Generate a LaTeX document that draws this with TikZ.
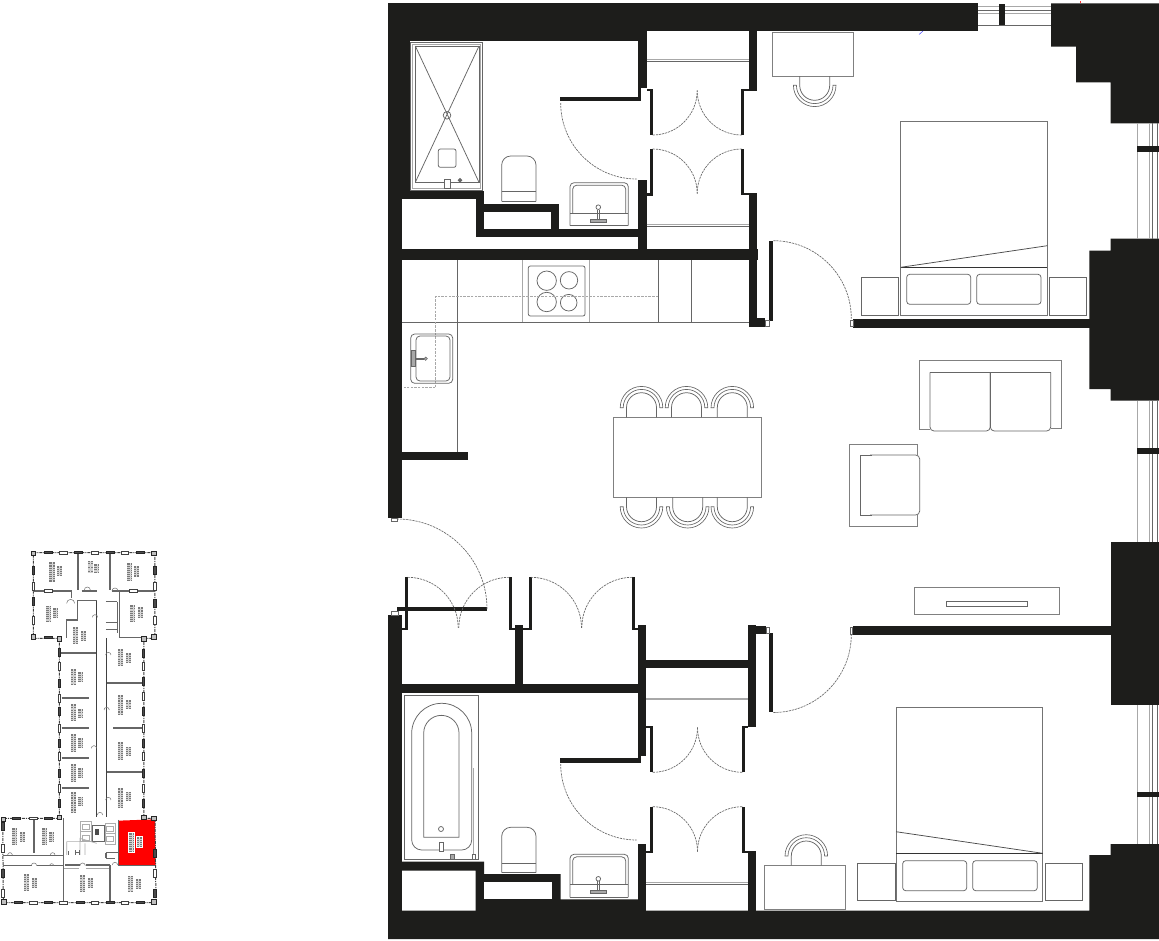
\documentclass[tikz,border=0pt]{standalone}
\definecolor{wallc}{HTML}{1D1D1B}
\definecolor{linec}{HTML}{666666}
\definecolor{pale}{HTML}{A8A8A8}
\tikzset{
  wall/.style={fill=wallc,draw=none},
  furn/.style={draw=linec,line width=0.75pt,fill=none},
  pale line/.style={draw=pale,line width=0.8pt},
  swing/.style={draw=linec,line width=0.65pt,dash pattern=on 2.2pt off 0.9pt},
  pipe/.style={draw=pale,line width=0.8pt,dash pattern=on 2.5pt off 1.2pt},
  keyout/.style={draw=black!75,line width=1pt,dash pattern=on 3pt off 1pt on 1pt off 1pt},
  keywall/.style={draw=black!60,line width=1.3pt},
  keylite/.style={draw=black!32,line width=0.7pt},
  keypier/.style={draw=black!85,fill=black!70,line width=0.7pt},
  keyhollow/.style={draw=black!75,fill=white,line width=0.8pt}
}
\newcommand{\seatchair}[4]{%
  \begin{scope}[shift={(#1,#2)},yscale=#4]
    \draw[furn] (-15,#3) -- (-15,0) arc[start angle=180,end angle=360,radius=15] -- (15,#3);
    \draw[furn,line width=0.65pt] (-21.3,0) arc[start angle=180,end angle=360,radius=21.3] -- (18.3,0) arc[start angle=360,end angle=180,radius=18.3] -- cycle;
  \end{scope}}
\newcommand{\basin}[2]{%
  \begin{scope}[shift={(#1,#2)}]
    \draw[furn] (0,43) -- (0,5) [rounded corners=4pt] -- (0,0) -- (58.3,0) -- (58.3,43);
    \draw[furn] (0,43) -- (58.3,43);
    \draw[furn] (0,30.5) -- (58.3,30.5);
    \draw[furn] (2.7,30.5) [rounded corners=4pt] -- (2.7,2.5) -- (55.7,2.5) -- (55.7,30.5);
    \draw[furn] (28.3,24.5) circle[radius=2.3];
    \draw[furn] (27,27) -- (27,38) (29.7,27) -- (29.7,38);
    \draw[furn,fill=pale] (20.7,36.5) rectangle (36.7,39.3);
  \end{scope}}
\newcommand{\wc}[2]{%
  \begin{scope}[shift={(#1,#2)}]
    \draw[furn,rounded corners=9pt] (0,45.3) -- (0,0) -- (34.3,0) -- (34.3,45.3);
    \draw[furn] (0,45.3) -- (34.3,45.3);
    \draw[furn] (0,35.8) -- (34.3,35.8);
  \end{scope}}
\newcommand{\blockpair}[8]{%
  \fill[white] (#1-3,#2-3) rectangle ++(#3+6,#4+6);
  \fill[white] (#5-3,#6-3) rectangle ++(#7+6,#8+6);
  \fill[black!52] (#1,#2) rectangle ++(#3,#4);
  \fill[black!52] (#5,#6) rectangle ++(#7,#8);
  \draw[black!12,line width=0.3pt] (#1+#3/2,#2) -- ++(0,#4);
  \draw[black!12,line width=0.3pt] (#5+#7/2,#6) -- ++(0,#8);
  \foreach \k in {1,...,8}{%
    \pgfmathsetmacro{\yy}{#2+\k*#4/9}%
    \draw[black!18,line width=0.2pt] (#1,\yy) -- ++(#3,0);}
  \foreach \k in {1,...,4}{%
    \pgfmathsetmacro{\yy}{#6+\k*#8/5}%
    \draw[black!18,line width=0.2pt] (#5,\yy) -- ++(#7,0);}
}
\begin{document}
\begin{tikzpicture}[x=1pt,y=-1pt]
\useasboundingbox (0,0) rectangle (1159,940);
\fill[white] (0,0) rectangle (1159,940);

% ---------- walls ----------
\fill[wall] (388,2.5) rectangle (978,31);
\fill[wall] (388,31) rectangle (646.7,41);
\fill[wall] (388,2.5) rectangle (401.7,518.3);
\fill[wall] (401.7,41) rectangle (410,190.7);
\fill[wall] (401.7,190.7) rectangle (484,199.3);
\fill[wall] (475.7,199.3) rectangle (484,237.3);
\fill[wall] (484,204) rectangle (559,212.3);
\fill[wall] (550.7,204) rectangle (559,229);
\fill[wall] (475.7,229) rectangle (638.3,237.3);
\fill[wall] (638.3,31) rectangle (646.7,88);
\fill[wall] (638.3,88) rectangle (640.7,96.7);
\fill[wall] (560,96.7) rectangle (640.7,101);
\fill[wall] (638.3,180) rectangle (646.7,249);
\fill[wall] (388,249) rectangle (757.7,260);
\fill[wall] (749,31) rectangle (756.7,90.7);
\fill[wall] (749,193.3) rectangle (757,327);
\fill[wall] (749,318) rectangle (765,327);
\fill[wall] (646.7,88.5) rectangle (652.8,90.9);
\fill[wall] (650,90.7) rectangle (652.8,135);
\fill[wall] (741,90.7) rectangle (743.8,135);
\fill[wall] (741,88.5) rectangle (749,90.9);
\fill[wall] (650,149) rectangle (652.8,193.3);
\fill[wall] (646.7,193.3) rectangle (652.8,195.5);
\fill[wall] (741,149) rectangle (743.8,193.3);
\fill[wall] (741,192.8) rectangle (749,195);
\fill[wall] (769,240.7) rectangle (773.3,320.7);
\fill[wall] (401.7,451.7) rectangle (468.3,460);
\fill[wall] (853.3,319.3) rectangle (1090,328.3);
\fill[wall] (852.7,626) rectangle (1111,634.7);
% right-hand columns
\fill[wall] (1051,3.3) -- (1159,3.3) -- (1159,123.3) -- (1110.7,123.3) -- (1110.7,82.3) -- (1076,82.3) -- (1076,46.7) -- (1051,46.7) -- cycle;
\fill[wall] (1110.7,238.7) -- (1159,238.7) -- (1159,400.7) -- (1110.7,400.7) -- (1110.7,389) -- (1089.3,389) -- (1089.3,250.7) -- (1110.7,250.7) -- cycle;
\fill[wall] (1110.7,541.7) rectangle (1159,705);
\fill[wall] (1110.7,844) -- (1159,844) -- (1159,939) -- (388,939) -- (388,910.5) -- (1089.3,910.7) -- (1089.3,855) -- (1110.7,855) -- cycle;
% lower-left walls
\fill[wall] (388,615) rectangle (401.7,939);
\fill[wall] (401.7,628) rectangle (407.9,630.2);
\fill[wall] (405.2,577.3) rectangle (407.9,630.2);
\fill[wall] (396.7,606.7) rectangle (487.3,611);
\fill[wall] (509,577.3) rectangle (511.7,630.2);
\fill[wall] (529,577.3) rectangle (531.5,630.2);
\fill[wall] (509,627.7) rectangle (531.5,630.2);
\fill[wall] (515,625) rectangle (523.3,684);
\fill[wall] (401.7,684) rectangle (646,692.7);
\fill[wall] (632,577.3) rectangle (634.6,630.2);
\fill[wall] (632,627.7) rectangle (638.3,630.2);
\fill[wall] (638.3,625) rectangle (646,756);
\fill[wall] (560,757.7) rectangle (640.7,762.7);
\fill[wall] (638.3,756) rectangle (640.7,757.7);
\fill[wall] (646,660) rectangle (748.3,668.3);
\fill[wall] (748.3,625) rectangle (756,727.3);
\fill[wall] (756,626) rectangle (766,634);
\fill[wall] (769,632.7) rectangle (773.3,712.3);
\fill[wall] (646,725.7) rectangle (652.9,728.3);
\fill[wall] (650.1,725.7) rectangle (652.9,772.3);
\fill[wall] (741.7,725.7) rectangle (748.3,728.3);
\fill[wall] (741.7,725.7) rectangle (744.5,772.3);
\fill[wall] (650.1,806.7) rectangle (652.9,853.3);
\fill[wall] (646,851.1) rectangle (652.9,853.3);
\fill[wall] (741.7,806.7) rectangle (744.5,853.3);
\fill[wall] (741.7,851.1) rectangle (756,853.3);
\fill[wall] (748.3,851.3) rectangle (756,910.7);
\fill[wall] (638.3,844) rectangle (646,910.7);
\fill[wall] (401.7,861.7) -- (484,861.7) -- (484,874) -- (560.7,874) -- (560.7,899.3) -- (638.3,899.3) -- (638.3,911) -- (475.7,911) -- (475.7,870.7) -- (401.7,870.7) -- cycle;
\fill[white] (484,882.3) rectangle (552.3,899.3);

% small jamb boxes
\draw[furn,line width=0.5pt,fill=white] (765,320) rectangle (769,326.7);
\draw[furn,line width=0.5pt,fill=white] (850,320) rectangle (853.3,326.7);
\draw[furn,line width=0.5pt,fill=white] (850,627.7) rectangle (852.7,634);
\draw[furn,line width=0.5pt,fill=white] (766,627.7) rectangle (769,633);
\draw[furn,line width=0.5pt,fill=white] (391,518.3) rectangle (397.7,521.7);
\draw[furn,line width=0.5pt,fill=white] (391,611) rectangle (398,615);

% ---------- windows ----------
\draw[pale line] (978,6) -- (1051,6) (978,13.3) -- (1051,13.3);
\draw[furn] (978,10) -- (1051,10) (978,25) -- (1051,25);
\fill[wall] (998.7,4) rectangle (1005.3,25);
\foreach \ya/\yb in {123.3/238.7,400.7/541.7,705/844}{
  \draw[pale line] (1137.3,\ya) -- (1137.3,\yb) (1149.3,\ya) -- (1149.3,\yb);
  \draw[furn] (1152,\ya) -- (1152,\yb) (1157,\ya) -- (1157,\yb);
}
\fill[wall] (1137.3,145.7) rectangle (1159,151.7);
\fill[wall] (1137.3,448.3) rectangle (1159,454.3);
\fill[wall] (1137.3,791.7) rectangle (1159,797.3);

% ---------- closet rails ----------
\draw[pale line] (646.7,59) -- (749,59);
\draw[furn] (646.7,61.7) -- (749,61.7);
\draw[pale line] (646.7,224) -- (749,224);
\draw[furn] (646.7,226.7) -- (749,226.7);
\draw[pale,line width=1.6pt] (646,699) -- (748.3,699);
\draw[pale line] (646,882.3) -- (748.3,882.3);
\draw[furn] (646,884.5) -- (748.3,884.5);

% ---------- door swings ----------
\draw[swing] (397,519) arc[start angle=270,end angle=360,radius=90];
\draw[swing] (560.7,103) arc[start angle=180,end angle=90,radius=76];
\draw[swing] (560.7,764) arc[start angle=180,end angle=90,radius=76];
\draw[swing] (773.3,240.7) arc[start angle=270,end angle=360,radius=78];
\draw[swing] (773.3,712.5) arc[start angle=90,end angle=0,radius=78];
\draw[swing] (652.7,135) arc[start angle=90,end angle=0,radius=44.5];
\draw[swing] (741.7,135) arc[start angle=90,end angle=180,radius=44.5];
\draw[swing] (652.7,149) arc[start angle=270,end angle=360,radius=44.5];
\draw[swing] (741.7,149) arc[start angle=270,end angle=180,radius=44.5];
\draw[swing] (652.7,772.3) arc[start angle=90,end angle=0,radius=44.8];
\draw[swing] (742.3,772.3) arc[start angle=90,end angle=180,radius=44.8];
\draw[swing] (652.7,806.7) arc[start angle=270,end angle=360,radius=44.8];
\draw[swing] (742.3,806.7) arc[start angle=270,end angle=180,radius=44.8];
\draw[swing] (407.7,577.3) arc[start angle=270,end angle=360,radius=50.5];
\draw[swing] (509.3,577.3) arc[start angle=270,end angle=180,radius=50.5];
\draw[swing] (531,577.3) arc[start angle=270,end angle=360,radius=50.5];
\draw[swing] (632.3,577.3) arc[start angle=270,end angle=180,radius=50.5];

% ---------- shower ----------
\draw[furn] (410,42.7) rectangle (482.7,190);
\draw[pale line] (412.5,44.5) rectangle (480.7,188);
\draw[furn] (415.3,46) rectangle (479,182.3);
\draw[furn] (415.3,46) -- (479,182.3) (479,46) -- (415.3,182.3);
\draw[furn] (447,115.3) circle[radius=3.8];
\draw[furn,rounded corners=2pt] (438.3,149) rectangle (456,167.3);
\draw[furn,fill=white] (444.3,179.3) rectangle (450.3,188.3);
\draw[furn,fill=linec] (460,180.3) circle[radius=1.8];
\wc{501.7}{156}
\basin{570}{182.7}

% ---------- kitchen ----------
\draw[furn] (401.7,322.3) -- (749,322.3);
\draw[furn] (457.3,260) -- (457.3,451.7);
\draw[furn] (658.3,260) -- (658.3,322.3) (691.3,260) -- (691.3,322.3);
\draw[pale line] (522.7,260) -- (522.7,322.3) (589.7,260) -- (589.7,322.3);
\draw[furn,rounded corners=2pt] (528.3,266) rectangle (585,316);
\draw[furn] (546.7,280.7) circle[radius=9.7] (569,280.3) circle[radius=8.7] (546.7,302) circle[radius=9.7] (568.7,302.7) circle[radius=8.3];
\draw[pipe] (658.3,296.3) -- (435.7,296.3) -- (435.7,387.7) -- (404,387.7);
\draw[furn,rounded corners=4pt] (410.7,334) rectangle (452.7,383.3);
\draw[furn,rounded corners=4pt] (416,336) rectangle (450,381);
\draw[furn,line width=0.5pt,fill=pale] (411.7,350.7) rectangle (415,366.7);
\draw[furn,line width=0.5pt] (415,358) -- (424,358) (415,359.5) -- (424,359.5);
\draw[furn,fill=pale,line width=0.5pt] (425.7,358.7) circle[radius=1.7];

% ---------- bathroom ----------
\draw[furn] (404.3,695.7) rectangle (478.3,859.3);
\draw[furn] (441.7,703.3) arc[start angle=270,end angle=180,radius=30] -- (411.7,840) arc[start angle=180,end angle=90,radius=10] -- (461.7,850) arc[start angle=90,end angle=0,radius=10] -- (471.7,733.3) arc[start angle=0,end angle=-90,radius=30];
\draw[furn] (423.7,837.3) -- (423.7,733) arc[start angle=180,end angle=360,radius=17.65] -- (459,837.3) -- cycle;
\draw[furn] (441,829) circle[radius=2.5];
\draw[furn,fill=white] (439.3,842.3) rectangle (443.3,851.7);
\draw[furn,fill=pale] (450.7,854.3) rectangle (454,859);
\draw[furn,fill=white] (472.3,854.3) rectangle (475.7,859);
\draw[pale line] (473.7,768.3) -- (473.7,854);
\wc{501.7}{827.3}
\basin{570}{854.3}

% ---------- dining ----------
\draw[furn,draw=black!50] (613.3,417.3) rectangle (761,497.3);
\foreach \cx in {641.5,686.5,732.3}{\seatchair{\cx}{407.7}{9.6}{1}}
\seatchair{641.5}{506.7}{9.4}{-1}
\seatchair{687.7}{506.7}{9.4}{-1}
\seatchair{732.3}{506.7}{9.4}{-1}

% ---------- sofa, armchair, TV ----------
\draw[furn,draw=black!50] (930,429) -- (919,429) -- (919,360.7) -- (1061.7,360.7) -- (1061.7,428.3) -- (1050.7,428.3);
\draw[furn] (930,372.3) -- (1050.7,372.3);
\draw[furn] (990.3,372.3) -- (990.3,427);
\draw[furn,rounded corners=4pt] (990.3,372.3) -- (990.3,431) -- (1050.7,431) -- (1050.7,372.3);
\draw[furn,rounded corners=4pt] (930,372.3) -- (930,431) -- (990.3,431) -- (990.3,372.3);
\draw[furn,draw=black!50] (917.3,455) -- (917.3,444.7) -- (849.3,444.7) -- (849.3,526.7) -- (917.3,526.7) -- (917.3,515);
\draw[furn,rounded corners=4pt] (870,455) -- (919.7,455) -- (919.7,515) -- (870,515);
\draw[furn] (872,455) -- (860.7,455) -- (860.7,515) -- (872,515);
\draw[furn,draw=black!50] (914.7,587.7) rectangle (1059.7,614.3);
\draw[furn] (946.7,601.7) rectangle (1027.7,606.7);

% ---------- upper bedroom ----------
\draw[furn,draw=black!55] (900.7,121.3) rectangle (1047.3,315);
\draw[furn,draw=black!80] (900.7,267.3) -- (1047.3,267.3);
\draw[furn,draw=black!70] (900.7,267.3) -- (1047.3,245.7);
\draw[furn,rounded corners=3pt] (906.7,274.3) rectangle (970.7,304.3);
\draw[furn,rounded corners=3pt] (976.7,274.3) rectangle (1041,304.3);
\draw[furn] (861.3,277.7) rectangle (898.7,315);
\draw[furn] (1049,277.7) rectangle (1086,315);
\draw[furn,draw=black!50] (772.3,32.3) rectangle (853.3,76);
\seatchair{814.7}{85.3}{9.3}{-1}

% ---------- lower bedroom ----------
\draw[furn,draw=black!55] (896,707.3) rectangle (1042.7,901);
\draw[furn,draw=black!80] (896,853.3) -- (1042.7,853.3);
\draw[furn,draw=black!70] (896,831.7) -- (1042.7,853.3);
\draw[furn,rounded corners=3pt] (902.7,860.7) rectangle (966.7,890.7);
\draw[furn,rounded corners=3pt] (972.7,860.7) rectangle (1037.3,890.7);
\draw[furn] (857.7,863.7) rectangle (895,900.7);
\draw[furn] (1045.3,863.7) rectangle (1082.3,900.7);
\draw[furn,draw=black!50] (764.3,865.3) rectangle (845.3,909.3);
\seatchair{806.3}{856}{9.3}{1}

% tiny stray marks
\draw[blue!70,line width=0.5pt] (919,34.5) -- (923,31);
\draw[red!80,line width=0.5pt] (1080.7,1) -- (1080.7,3);

% ---------- key plan (coordinates of a 3x enlargement) ----------
\begin{scope}[shift={(0,540)},x=0.3333pt,y=-0.3333pt]
\fill[red] (357,842) -- (465,838) -- (467,975) -- (357,975) -- cycle;
% exterior
\draw[keyout] (100,38) -- (465,38) -- (465,295) -- (432,295) -- (432,835) -- (465,835) -- (468,1088) -- (10,1088) -- (8,835) -- (178,835) -- (178,295) -- (100,295) -- cycle;
% interior walls
\draw[keywall,line width=1.8pt] (235,40) -- (235,150) (330,40) -- (330,150);
\draw[keywall] (100,153) -- (215,153) (245,153) -- (290,153) (335,153) -- (465,153);
\draw[keywall] (215,153) -- (215,175) (358,155) -- (358,293) -- (432,293);
\draw[keywall] (232,182) -- (291,182) (232,182) -- (232,240) -- (200,240) -- (200,295);
\draw[draw=black!75,line width=1pt] (291,182) -- (291,830) (320,295) -- (320,830);
\draw[keywall,line width=0.9pt] (318,185) -- (352,185) (318,248) -- (350,248) (318,268) -- (350,268) (352,185) -- (352,280);
\draw[keywall,line width=1.9pt] (180,338) -- (288,338);
\draw[keywall,line width=1.8pt] (185,473) -- (268,473) (185,565) -- (268,565) (185,655) -- (268,655) (185,745) -- (268,745);
\draw[keywall,line width=1.8pt] (320,428) -- (430,428) (340,565) -- (430,565) (320,697) -- (430,697);
\draw[keywall] (190,835) -- (190,1088) (330,975) -- (330,1088);
\draw[keywall,line width=1.8pt] (102,838) -- (102,940);
\draw[keywall] (8,947) -- (190,947) (8,977) -- (95,977) (110,977) -- (190,977) (195,975) -- (240,975) (258,975) -- (330,975) (355,977) -- (465,977);
\draw[keywall] (355,840) -- (355,975) (318,938) -- (355,938) (318,955) -- (345,955) (318,938) -- (318,955);
\draw[keywall,line width=1.1pt,draw=black!35] (192,985) -- (238,985) (258,985) -- (328,985);
% stairs and lifts
\draw[keylite] (240,845) rectangle (275,905) (240,875) -- (275,875);
\draw[keylite] (247,852) rectangle (268,868) (247,885) rectangle (268,900);
\draw[keylite] (315,850) rectangle (345,912) (315,880) -- (345,880);
\draw[keylite] (320,858) rectangle (340,874) (320,888) rectangle (340,905);
\draw[keywall,line width=0.7pt] (278,855) rectangle (312,905);
\fill[black!70] (284,868) rectangle (296,884);
\draw[keylite] (200,905) -- (240,905) -- (240,895) -- (290,910) (240,905) -- (240,945) (255,910) -- (255,945) (200,905) -- (200,945);
\draw[keywall,line width=0.8pt] (205,945) -- (205,932) (225,945) -- (225,930) (238,945) -- (238,930) (225,938) -- (238,938);
% door swings
\foreach \ax/\ay/\ar in {212/190/12,262/150/9,345/153/9,285/232/8,325/345/8,320/510/8,282/625/8,325/780/8,300/825/8,30/945/7,158/945/7,102/977/8,155/977/6,248/977/8,345/975/8}{
  \draw[draw=black!55,line width=0.5pt] (\ax,\ay) ++(-\ar,0) arc[start angle=180,end angle=360,radius=\ar];
}
% piers
\foreach \px/\py in {145/38,235/38,330/38,420/38,145/293,145/1088,50/835,145/835,55/1088,240/1088,330/1088,420/1088}{
  \draw[keypier] (\px-12,\py-3) rectangle (\px+12,\py+3);
}
\foreach \px/\py in {190/38,285/38,375/38,145/153,400/153,100/835,100/1088,190/1088,285/1088,375/1088}{
  \draw[keyhollow] (\px-11,\py-4) rectangle (\px+11,\py+4);
}
\foreach \px/\py in {100/90,100/185,465/90,465/190,178/338,178/430,178/515,178/610,178/700,178/790,430/340,430/425,430/515,430/610,430/700,430/790,8/860,8/1000,465/940,465/1060}{
  \draw[keypier] (\px-4,\py-12) rectangle (\px+4,\py+12);
}
\foreach \px/\py in {100/140,100/240,465/140,465/240,178/380,178/475,178/565,178/650,178/745,430/380,430/470,430/565,430/650,430/745,8/925,8/1060,465/1000}{
  \draw[keyhollow] (\px-4,\py-12) rectangle (\px+4,\py+12);
}
\foreach \px/\py in {100/40,462/40,100/290,462/290,10/838,12/1085,462/1085,462/835,178/297,432/297,178/832,432/832}{
  \draw[keypier,fill=black!25] (\px-7,\py-7) rectangle (\px+7,\py+7);
}
% furniture blocks
\blockpair{148}{67}{16}{58}{170}{78}{15}{30}
\blockpair{263}{63}{15}{37}{283}{73}{15}{27}
\blockpair{381}{70}{16}{52}{402}{78}{15}{32}
\blockpair{138}{197}{16}{50}{160}{205}{15}{30}
\blockpair{390}{195}{16}{50}{413}{202}{15}{32}
\blockpair{219}{262}{15}{50}{243}{272}{15}{30}
\blockpair{212}{388}{15}{48}{235}{397}{15}{28}
\blockpair{212}{492}{15}{50}{235}{507}{15}{28}
\blockpair{212}{582}{15}{55}{235}{595}{15}{28}
\blockpair{212}{672}{15}{55}{235}{685}{15}{28}
\blockpair{212}{755}{15}{65}{235}{770}{15}{28}
\blockpair{353}{328}{15}{50}{377}{340}{15}{28}
\blockpair{353}{465}{15}{60}{377}{480}{15}{28}
\blockpair{353}{605}{15}{55}{377}{620}{15}{28}
\blockpair{353}{745}{15}{60}{377}{755}{15}{28}
\blockpair{37}{865}{15}{50}{60}{875}{15}{30}
\blockpair{127}{865}{15}{50}{148}{875}{15}{30}
\blockpair{388}{880}{15}{55}{410}{890}{15}{30}
\blockpair{72}{1003}{15}{50}{96}{1015}{15}{30}
\blockpair{240}{1005}{15}{50}{263}{1015}{15}{30}
\blockpair{384}{1007}{15}{50}{408}{1017}{15}{30}
\end{scope}
\end{tikzpicture}
\end{document}
